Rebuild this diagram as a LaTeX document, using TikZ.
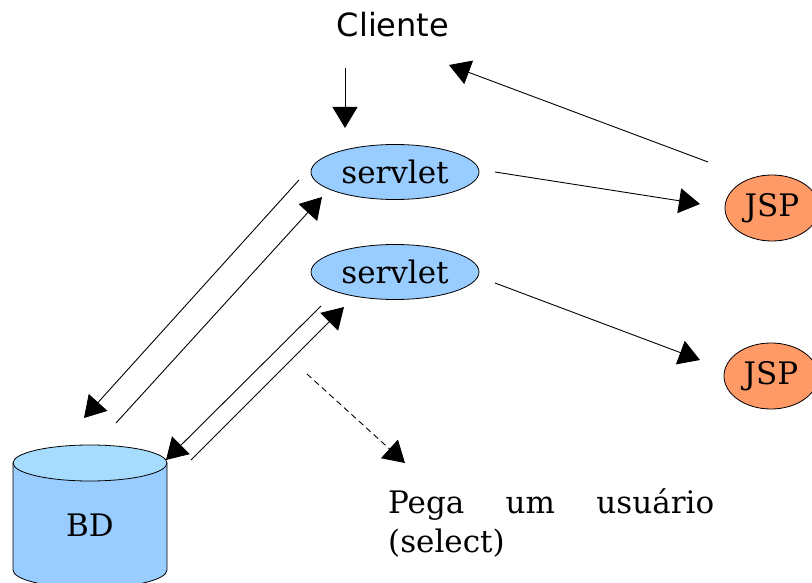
\documentclass[tikz,border=0pt]{standalone}
\usepackage{fontspec}
\setmainfont{DejaVu Serif}
\newfontfamily\clientefont{DejaVu Sans}
\usetikzlibrary{arrows.meta,shapes.geometric}
\definecolor{servblue}{HTML}{99CCFF}
\definecolor{jsporange}{HTML}{FF9966}
\definecolor{cyltop}{HTML}{A6DDFF}
\begin{document}
\begin{tikzpicture}[x=1pt,y=-1pt,
  conn/.style={draw=black, line width=0.9pt, -{Triangle[length=21pt,width=25pt]}},
  dconn/.style={conn, dash pattern=on 6pt off 4pt},
  servletnode/.style={ellipse, draw=black, line width=0.8pt, fill=servblue, minimum width=168pt, minimum height=55pt, inner sep=0pt, font=\fontsize{31}{36}\selectfont},
  jspnode/.style={ellipse, draw=black, line width=0.8pt, fill=jsporange, minimum width=94pt, minimum height=66pt, inner sep=0pt, font=\fontsize{31}{36}\selectfont},
  plaintext/.style={inner sep=0pt, font=\fontsize{31}{39}\selectfont}
]
\useasboundingbox (0,0) rectangle (812,583);

% nodes
\node[anchor=base, inner sep=0pt, font=\clientefont\fontsize{32}{38}\selectfont] (cliente) at (393,37) {Cliente};
\node[servletnode] (servlet1) at (395,172) {servlet};
\node[servletnode] (servlet2) at (395,272) {servlet};
\node[jspnode] (jsp1) at (772,208) {JSP};
\node[jspnode] (jsp2) at (771,376) {JSP};

% database cylinder
\path[fill=servblue, draw=black, line width=0.8pt] (13,463) -- (13,570) arc[start angle=180, end angle=0, x radius=77, y radius=18] -- (167,463);
\draw[fill=cyltop, line width=0.8pt] (90,463) ellipse[x radius=77, y radius=18];
\node[plaintext] (bd) at (90,525) {BD};

% note
\node[plaintext, anchor=north west, align=left] (note) at (388,489) {\makebox[326pt][s]{Pega um usuário}\\(select)};

% connector end points
\coordinate (c1s) at (345,68);  \coordinate (c1e) at (345,128);
\coordinate (j1s) at (708,162); \coordinate (j1e) at (449,65);
\coordinate (s1a) at (495,172); \coordinate (s1b) at (700,204);
\coordinate (s2a) at (495,283); \coordinate (s2b) at (700,360);
\coordinate (d1a) at (299,180); \coordinate (d1b) at (84,418);
\coordinate (u1a) at (116,423); \coordinate (u1b) at (322,197);
\coordinate (d2a) at (321,306); \coordinate (d2b) at (166,460);
\coordinate (u2a) at (191,460); \coordinate (u2b) at (344,307);
\coordinate (da) at (307,374);  \coordinate (db) at (405,463);

% connectors
\draw[conn] (c1s) -- (c1e);
\draw[conn] (j1s) -- (j1e);
\draw[conn] (s1a) -- (s1b);
\draw[conn] (s2a) -- (s2b);
\draw[conn] (d1a) -- (d1b);
\draw[conn] (u1a) -- (u1b);
\draw[conn] (d2a) -- (d2b);
\draw[conn] (u2a) -- (u2b);
\draw[dconn] (da) -- (db);
\end{tikzpicture}
\end{document}
